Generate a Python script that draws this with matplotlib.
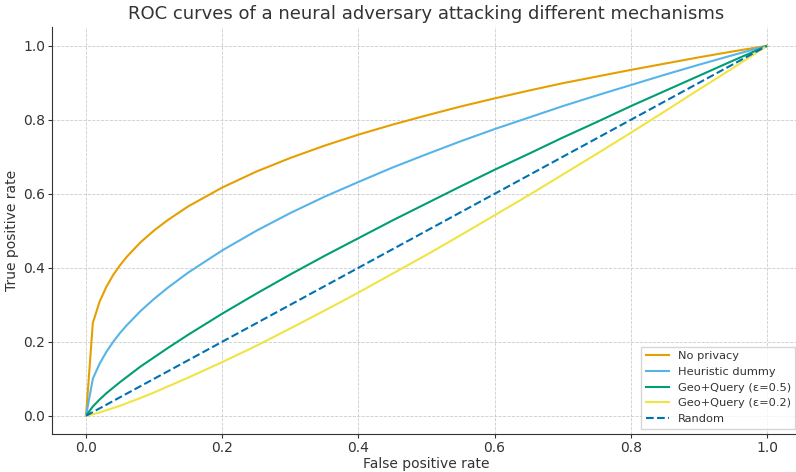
import matplotlib
matplotlib.use("Agg")
import matplotlib.pyplot as plt

# false positive rate grid (shared by all curves)
fpr = [0.0, 0.01, 0.02, 0.03, 0.04, 0.05, 0.06, 0.08, 0.10, 0.12, 0.15, 0.20,
       0.25, 0.30, 0.35, 0.40, 0.45, 0.50, 0.55, 0.60, 0.65, 0.70, 0.75,
       0.80, 0.85, 0.90, 0.95, 1.0]

tpr_no_privacy = [0.0, 0.251, 0.309, 0.349, 0.381, 0.407, 0.430, 0.469, 0.501,
                  0.529, 0.566, 0.617, 0.660, 0.697, 0.730, 0.760, 0.787, 0.812,
                  0.836, 0.858, 0.879, 0.899, 0.917, 0.935, 0.952, 0.969, 0.985, 1.0]
tpr_heuristic = [0.0, 0.100, 0.141, 0.173, 0.200, 0.224, 0.245, 0.283, 0.316,
                 0.346, 0.387, 0.447, 0.500, 0.548, 0.592, 0.632, 0.671, 0.707,
                 0.742, 0.775, 0.806, 0.837, 0.866, 0.894, 0.922, 0.949, 0.975, 1.0]
tpr_geo_05 = [0.0, 0.025, 0.044, 0.061, 0.076, 0.091, 0.105, 0.133, 0.158,
              0.183, 0.219, 0.276, 0.330, 0.382, 0.432, 0.480, 0.528, 0.574,
              0.620, 0.665, 0.708, 0.752, 0.794, 0.837, 0.878, 0.919, 0.960, 1.0]
tpr_geo_02 = [0.0, 0.004, 0.009, 0.015, 0.021, 0.027, 0.034, 0.048, 0.063,
              0.079, 0.103, 0.145, 0.189, 0.236, 0.284, 0.333, 0.384, 0.435,
              0.488, 0.542, 0.596, 0.652, 0.708, 0.765, 0.823, 0.882, 0.940, 1.0]
random_line = [0.0, 1.0]

fig = plt.figure(figsize=(7.96, 4.72), dpi=100)
ax = fig.add_axes([0.0653, 0.08, 0.941, 0.862])

ax.plot(fpr, tpr_no_privacy, color="#E69F00", lw=1.5, label="No privacy")
ax.plot(fpr, tpr_heuristic, color="#56B4E9", lw=1.5, label="Heuristic dummy")
ax.plot(fpr, tpr_geo_05, color="#009E73", lw=1.5, label="Geo+Query (\u03b5=0.5)")
ax.plot(fpr, tpr_geo_02, color="#F0E442", lw=1.5, label="Geo+Query (\u03b5=0.2)")
ax.plot(random_line, random_line, color="#0072B2", lw=1.5, ls="--", label="Random")

ax.set_xlim(-0.05, 1.05)
ax.set_ylim(-0.05, 1.05)
ax.set_xticks([0.0, 0.2, 0.4, 0.6, 0.8, 1.0])
ax.set_yticks([0.0, 0.2, 0.4, 0.6, 0.8, 1.0])

ax.grid(True, ls="--", lw=0.6, color="#cccccc")
ax.set_axisbelow(True)
for s in ["top", "right"]:
    ax.spines[s].set_visible(False)
for s in ["left", "bottom"]:
    ax.spines[s].set_color("#333333")
ax.tick_params(colors="#333333", labelsize=10, length=3, pad=2)

ax.set_title("ROC curves of a neural adversary attacking different mechanisms",
             fontsize=13, color="#333333")
ax.set_xlabel("False positive rate", fontsize=10, color="#333333", labelpad=1)
ax.set_ylabel("True positive rate", fontsize=10, color="#333333", labelpad=3)

leg = ax.legend(loc="lower right", fontsize=8.2, framealpha=0.8,
                edgecolor="#cccccc", fancybox=False)
for t in leg.get_texts():
    t.set_color("#333333")

fig.savefig("out.png", dpi=100)
